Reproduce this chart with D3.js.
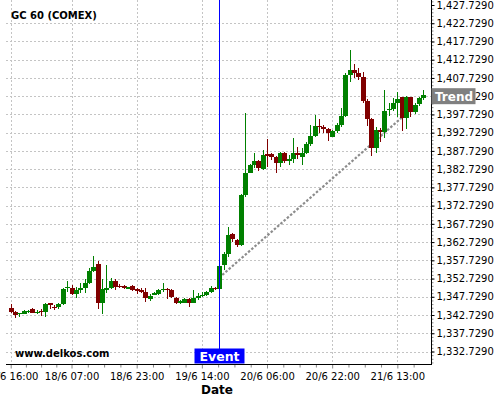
<!DOCTYPE html>
<html><head><meta charset="utf-8">
<script src="https://cdn.jsdelivr.net/npm/d3@7"></script>
<style>
html,body{margin:0;padding:0;background:#fff;}
svg{display:block;font-family:"DejaVu Sans",sans-serif;}
</style></head>
<body><svg id="c" width="500" height="400"></svg>
<script>
// ---- data ----
const title = "GC 60 (COMEX)";
const xLabels = ["17/6 16:00","18/6 07:00","18/6 23:00","19/6 14:00","20/6 06:00","20/6 22:00","21/6 13:00"];
const xTickIdx = [0,14,29,44,59,74,89];
const yTicks = [1332.729,1337.729,1342.729,1347.729,1352.729,1357.729,1362.729,1367.729,1372.729,1377.729,1382.729,1387.729,1392.729,1397.729,1402.729,1407.729,1412.729,1417.729,1422.729,1427.729];
const open = [1344.73,1343.63,1342.9,1343.0,1343.8,1344.4,1343.4,1343.8,1343.55,1345.94,
 1345.0,1344.8,1345.74,1350.04,1350.04,1348.48,1349.58,1350.2,1351.58,1354.87,
 1356.7,1345.94,1349.77,1350.2,1352.05,1350.67,1350.67,1350.04,1350.67,1349.77,
 1349.58,1349.1,1347.1,1348.4,1348.4,1349.58,1349.85,1349.58,1347.47,1346.1,
 1346.1,1347.03,1346.1,1347.3,1347.93,1348.1,1349.1,1350.2,1349.77,1356.43,
 1359.44,1364.92,1363.28,1361.91,1375.61,1381.71,1383.82,1384.92,1382.72,1386.83,
 1386.83,1386.09,1384.29,1387.03,1385.0,1385.47,1387.03,1386.09,1387.19,1389.49,
 1391.9,1394.5,1394.15,1393.6,1391.58,1393.14,1394.78,1397.25,1408.48,1409.85,
 1409.22,1408.02,1401.36,1396.43,1388.56,1393.41,1392.95,1398.89,1399.17,1400.73,
 1402.37,1396.78,1402.37,1398.43,1400.45,1402.26];
const high = [1345.66,1343.8,1343.4,1344.0,1344.1,1344.6,1344.1,1344.4,1346.1,1346.1,
 1345.47,1345.9,1350.2,1352.05,1350.95,1350.3,1351.4,1352.5,1355.5,1358.89,
 1357.52,1352.6,1356.4,1352.8,1352.5,1351.1,1350.95,1350.5,1351.0,1350.04,
 1350.04,1350.04,1348.48,1349.1,1349.77,1351.4,1350.2,1349.77,1347.74,1346.84,
 1347.3,1347.47,1349.58,1348.85,1349.1,1349.4,1350.67,1350.5,1356.4,1360.07,
 1366.92,1365.11,1363.47,1375.88,1397.99,1384.01,1387.03,1385.19,1387.93,1390.86,
 1387.1,1386.29,1387.46,1387.46,1386.56,1391.14,1388.83,1388.56,1390.2,1394.78,
 1397.52,1396.34,1394.78,1393.88,1393.41,1395.25,1399.36,1408.95,1415.52,1411.5,
 1410.59,1409.3,1401.82,1396.62,1394.15,1393.88,1404.37,1400.73,1402.1,1403.9,
 1402.54,1402.73,1402.54,1400.73,1402.54,1404.56];
const low = [1343.2,1342.0,1342.1,1342.9,1343.2,1343.3,1343.0,1342.45,1342.3,1344.45,
 1344.1,1344.45,1345.47,1349.1,1348.2,1347.3,1348.85,1348.85,1351.1,1354.6,
 1344.3,1343.0,1348.67,1349.77,1349.58,1350.04,1349.9,1349.77,1349.4,1348.4,
 1348.67,1346.37,1346.6,1348.1,1348.2,1349.1,1347.03,1347.3,1345.74,1345.74,
 1345.94,1345.0,1345.94,1346.84,1347.74,1347.93,1348.85,1349.58,1349.58,1355.06,
 1358.7,1362.81,1361.44,1361.63,1375.14,1381.55,1382.92,1382.18,1382.45,1383.36,
 1385.19,1381.71,1383.36,1384.29,1383.82,1384.37,1385.38,1383.82,1386.83,1388.99,
 1391.58,1392.5,1392.67,1390.48,1391.41,1392.5,1394.15,1396.89,1406.65,1407.85,
 1407.3,1400.73,1394.5,1386.37,1387.19,1390.04,1391.3,1397.25,1398.62,1397.06,
 1393.14,1393.6,1397.06,1397.8,1400.07,1401.63];
const close = [1343.63,1342.73,1343.25,1343.8,1343.95,1343.4,1343.55,1343.55,1345.74,1345.4,
 1344.65,1345.74,1349.77,1350.48,1348.48,1349.58,1350.2,1351.5,1354.87,1355.8,
 1345.93,1349.77,1350.04,1352.05,1350.3,1350.5,1350.2,1350.3,1349.58,1349.3,
 1349.1,1347.3,1348.0,1348.67,1349.58,1349.85,1349.58,1347.74,1345.94,1346.65,
 1347.03,1346.1,1347.3,1347.93,1348.2,1349.1,1350.04,1349.77,1356.15,1359.44,
 1364.65,1363.47,1361.91,1375.61,1381.72,1383.82,1384.92,1382.92,1386.56,1386.42,
 1386.09,1384.45,1387.03,1384.92,1385.38,1387.03,1386.48,1387.03,1389.49,1391.9,
 1394.5,1394.15,1393.68,1392.67,1393.14,1394.78,1397.25,1408.48,1410.04,1409.22,
 1408.02,1401.36,1396.43,1388.56,1393.41,1392.95,1398.62,1399.17,1400.73,1401.82,
 1396.78,1402.37,1398.43,1400.26,1402.26,1403.0];
const eventIdx = 48;
const eventLabel = "Event";
const trendIdx = [48.7, 91.5];
const trendVal = [1353.7, 1398.4];
const trendLabel = "Trend";
const trendLabelVal = 1402.729;
const watermark = "www.delkos.com";
const xTitle = "Date";

// ---- layout ----
const svg = d3.select("#c");
const plotL = 6, plotR = 431.5, plotT = 0, plotB = 364.5;
const x = d3.scaleLinear().domain([0, open.length - 1]).range([10.7, 423.4]);
const y = d3.scaleLinear().domain([1332.729, 1427.729]).range([351.5, 5]);
const GREEN = "#008000", RED = "#800000";

// grid
const grid = svg.append("g").attr("stroke", "#c4c4c4").attr("stroke-dasharray", "2,2").attr("shape-rendering", "crispEdges");
grid.selectAll("line.h").data(yTicks.slice(0, -1)).join("line")
  .attr("x1", plotL).attr("x2", plotR)
  .attr("y1", d => Math.round(y(d)) + 0.5).attr("y2", d => Math.round(y(d)) + 0.5);
grid.selectAll("line.v").data(xTickIdx).join("line")
  .attr("y1", plotT).attr("y2", plotB)
  .attr("x1", d => Math.round(x(d)) + 0.5).attr("x2", d => Math.round(x(d)) + 0.5);

// trend line
svg.append("line")
  .attr("x1", x(trendIdx[0])).attr("y1", y(trendVal[0]))
  .attr("x2", x(trendIdx[1])).attr("y2", y(trendVal[1]))
  .attr("stroke", "#8c8c8c").attr("stroke-width", 2.2).attr("stroke-dasharray", "2.5,1.8");

// candles
const idx = d3.range(open.length);
const cg = svg.append("g").attr("shape-rendering", "crispEdges");
cg.selectAll("line").data(idx).join("line")
  .attr("x1", i => Math.round(x(i)) + 0.5).attr("x2", i => Math.round(x(i)) + 0.5)
  .attr("y1", i => y(high[i])).attr("y2", i => y(low[i]))
  .attr("stroke", i => close[i] >= open[i] ? GREEN : RED).attr("stroke-width", 1);
cg.selectAll("rect").data(idx).join("rect")
  .attr("x", i => Math.round(x(i)) - 2)
  .attr("width", 5)
  .attr("y", i => y(Math.max(open[i], close[i])))
  .attr("height", i => Math.max(1.2, Math.abs(y(open[i]) - y(close[i]))))
  .attr("fill", i => close[i] >= open[i] ? GREEN : RED);

// event line
const ex = Math.round(x(eventIdx)) + 0.5;
svg.append("line").attr("x1", ex).attr("x2", ex).attr("y1", plotT).attr("y2", 349)
  .attr("stroke", "#0000ff").attr("stroke-width", 1).attr("shape-rendering", "crispEdges");

// axes
const yAxis = d3.axisRight(y).tickValues(yTicks).tickFormat(d3.format(",.4f")).tickSize(3).tickPadding(2).tickSizeOuter(0);
const yMinor = d3.range(-3, 97).map(k => 1332.729 + k).filter(v => y(v) >= plotT && y(v) <= plotB);
const ya = svg.append("g").attr("transform", `translate(${plotR},0)`);
ya.append("g").call(d3.axisRight(y).tickValues(yMinor).tickFormat("").tickSize(2).tickSizeOuter(0))
  .call(g => g.select(".domain").remove()).selectAll("line").attr("stroke", "#888");
ya.append("g").call(yAxis).call(g => g.select(".domain").remove())
  .call(g => g.selectAll("text").attr("font-size", 10).attr("fill", "#000").attr("font-family", "DejaVu Sans"))
  .call(g => g.selectAll("line").attr("stroke", "#000"));

const xMinor = [];
xTickIdx.forEach((t, k) => {
  const nxt = k < xTickIdx.length - 1 ? xTickIdx[k + 1] : t + 15;
  for (let j = 1; j < 4; j++) xMinor.push(t + (nxt - t) * j / 4);
});
const xa = svg.append("g").attr("transform", `translate(0,${plotB})`);
xa.append("g").call(d3.axisBottom(x).tickValues(xMinor.filter(v => x(v) < plotR - 2)).tickFormat("").tickSize(3).tickSizeOuter(0))
  .call(g => g.select(".domain").remove()).selectAll("line").attr("stroke", "#888");
xa.append("g").call(d3.axisBottom(x).tickValues(xTickIdx).tickFormat((d, i) => xLabels[i]).tickSize(4).tickPadding(4).tickSizeOuter(0))
  .call(g => g.select(".domain").remove())
  .call(g => g.selectAll("text").attr("font-size", 10).attr("fill", "#000").attr("font-family", "DejaVu Sans"))
  .call(g => g.selectAll("line").attr("stroke", "#888"));

svg.append("line").attr("x1", plotL).attr("x2", plotR + 0.5).attr("y1", plotB).attr("y2", plotB)
  .attr("stroke", "#000").attr("shape-rendering", "crispEdges");
svg.append("line").attr("x1", plotR).attr("x2", plotR).attr("y1", plotT).attr("y2", plotB)
  .attr("stroke", "#000").attr("shape-rendering", "crispEdges");

// labels
svg.append("text").attr("x", 11).attr("y", 19).attr("font-size", 10).attr("font-weight", "bold").text(title);
svg.append("text").attr("x", 15).attr("y", 357).attr("font-size", 10).attr("font-weight", "bold").text(watermark);
svg.append("text").attr("x", 217).attr("y", 394).attr("font-size", 12).attr("font-weight", "bold").attr("text-anchor", "middle").text(xTitle);

// event label
const evG = svg.append("g");
evG.append("rect").attr("x", ex - 25).attr("y", 348.5).attr("width", 50).attr("height", 15).attr("fill", "#0000ff");
evG.append("text").attr("x", ex).attr("y", 361).attr("font-size", 12.5).attr("font-weight", "bold")
  .attr("text-anchor", "middle").attr("fill", "#fff").text(eventLabel);

// trend label
const ty = y(trendLabelVal);
const trG = svg.append("g");
trG.append("rect").attr("x", plotR).attr("y", ty - 8).attr("width", 44).attr("height", 16).attr("fill", "#808080");
trG.append("text").attr("x", plotR + 3.5).attr("y", ty + 4.5).attr("font-size", 12).attr("font-weight", "bold")
  .attr("fill", "#fff").text(trendLabel);
</script></body></html>
